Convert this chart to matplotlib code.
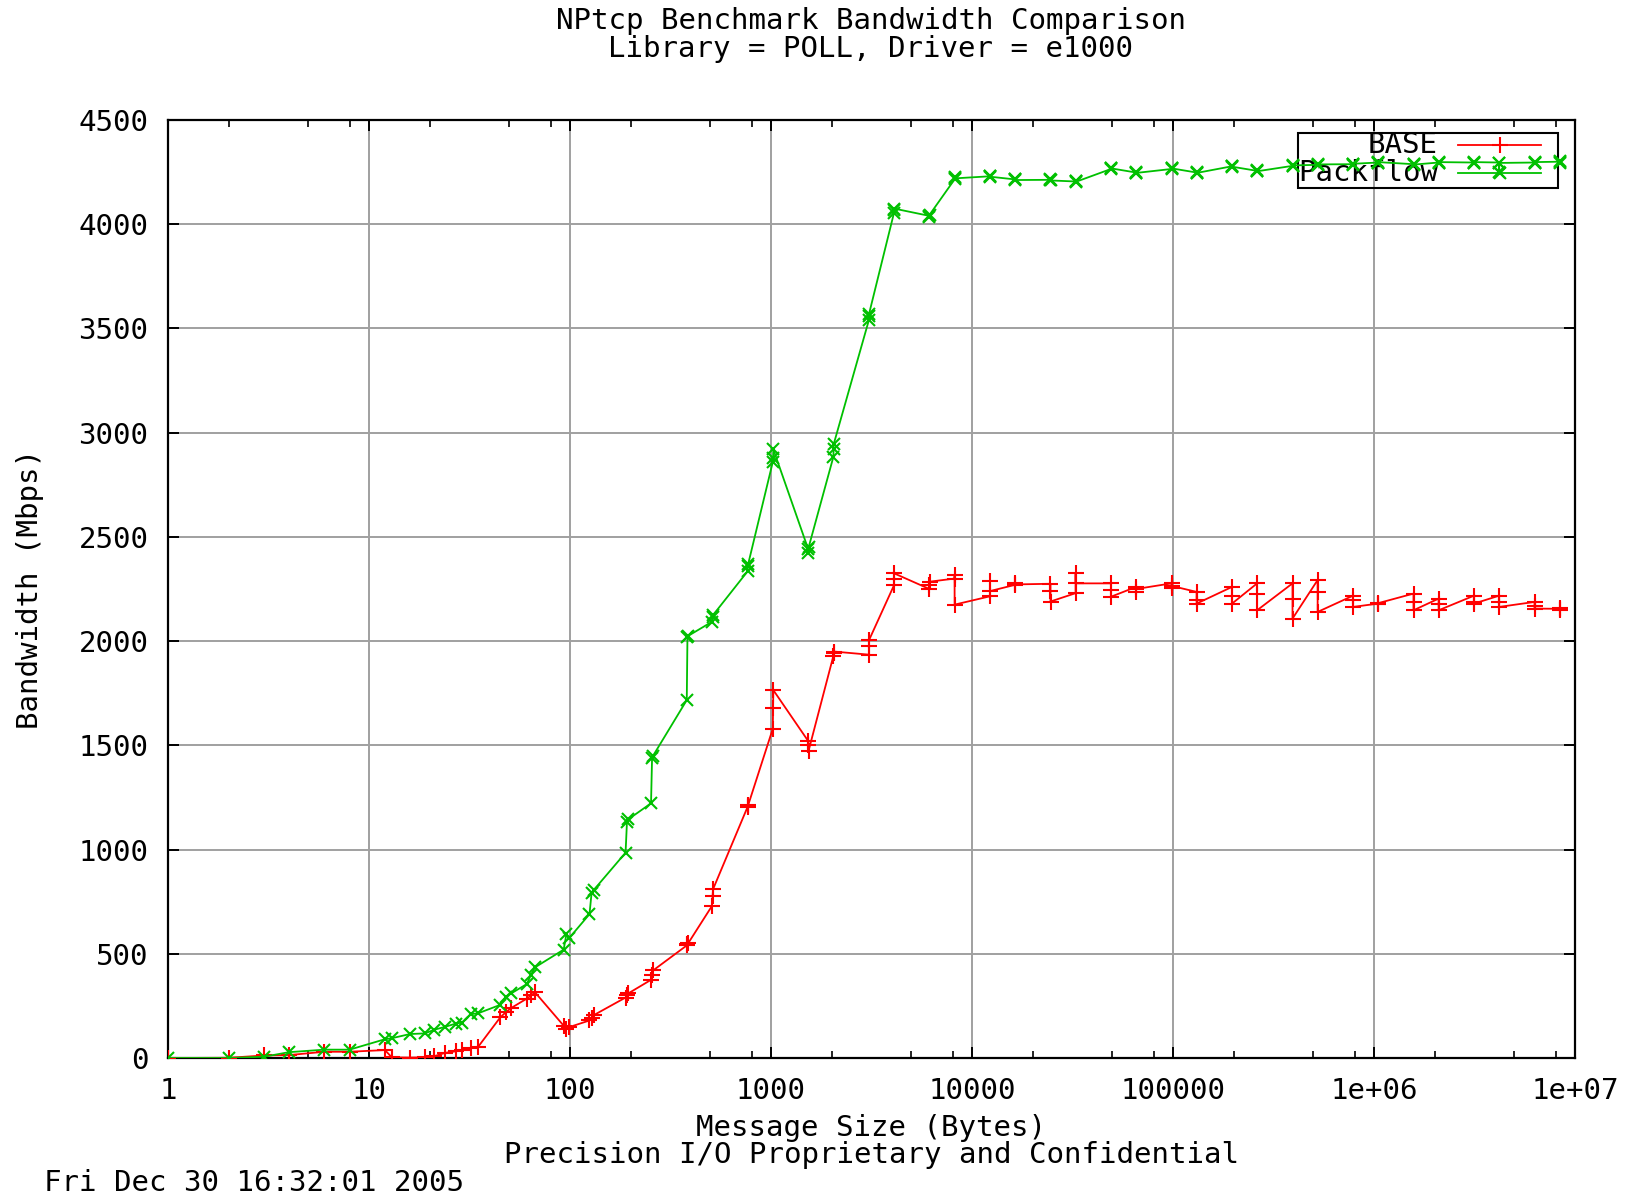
import numpy as np
import matplotlib
matplotlib.use("Agg")
import matplotlib.pyplot as plt
from matplotlib.ticker import LogLocator, FixedLocator, NullFormatter, FixedFormatter
from matplotlib.patches import Rectangle
from matplotlib.lines import Line2D

# message sizes tested by NPtcp (bytes)
sizes = [1, 2, 3, 4, 6, 8, 12, 13, 16, 19, 21, 24, 27, 29, 32, 35, 45, 48, 51,
         61, 64, 67, 93, 96, 99, 125, 128, 131, 189, 192, 195, 253, 256, 259,
         381, 384, 387, 509, 512, 515, 765, 768, 771, 1021, 1024, 1027,
         1533, 1536, 1539, 2045, 2048, 2051, 3069, 3072, 3075, 4093, 4096, 4099,
         6141, 6144, 6147, 8189, 8192, 8195, 12285, 12288, 12291,
         16381, 16384, 16387, 24573, 24576, 24579, 32765, 32768, 32771,
         49149, 49152, 49155, 65533, 65536, 65539, 98301, 98304, 98307,
         131069, 131072, 131075, 196605, 196608, 196611, 262141, 262144, 262147,
         393213, 393216, 393219, 524285, 524288, 524291, 786429, 786432, 786435,
         1048573, 1048576, 1048579, 1572861, 1572864, 1572867,
         2097149, 2097152, 2097155, 3145725, 3145728, 3145731,
         4194301, 4194304, 4194307, 6291453, 6291456, 6291459,
         8388605, 8388608, 8388611]

# bandwidth (Mbps), BASE
base_bw = [0, 1, 12, 14, 30, 30, 38, 3, 2, 3, 8, 25, 32, 38, 48, 55, 195, 220, 240,
           285, 300, 315, 155, 140, 148, 180, 190, 205, 290, 300, 310, 375, 400, 420,
           540, 545, 550, 730, 775, 810, 1205, 1210, 1215, 1580, 1680, 1765,
           1520, 1500, 1475, 1930, 1945, 1950, 1935, 1975, 2005, 2268, 2296, 2325,
           2250, 2270, 2285, 2300, 2315, 2175, 2215, 2290, 2240,
           2270, 2277, 2272, 2275, 2240, 2190, 2230, 2325, 2277,
           2277, 2245, 2213, 2260, 2236, 2250, 2277, 2253, 2265,
           2236, 2196, 2180, 2260, 2218, 2180, 2277, 2228, 2148,
           2277, 2204, 2108, 2293, 2236, 2140, 2218, 2196, 2164,
           2180, 2178, 2182, 2228, 2188, 2148,
           2204, 2180, 2148, 2218, 2190, 2180,
           2218, 2188, 2164, 2188, 2170, 2156,
           2155, 2150, 2158]

# bandwidth (Mbps), Packflow
packflow_bw = [0, 0, 6, 28, 40, 40, 90, 95, 115, 118, 135, 150, 165, 170, 210, 215, 255, 295, 310,
               355, 400, 435, 520, 595, 575, 690, 790, 805, 985, 1130, 1145, 1222, 1437, 1450,
               1717, 2018, 2025, 2093, 2115, 2125, 2335, 2362, 2372, 2860, 2880, 2920,
               2440, 2425, 2450, 2885, 2920, 2945, 3540, 3560, 3570, 4055, 4070, 4075,
               4040, 4035, 4045, 4215, 4225, 4220, 4230, 4232, 4228,
               4215, 4218, 4212, 4213, 4216, 4210, 4205, 4207, 4203,
               4265, 4270, 4268, 4248, 4250, 4246, 4265, 4270, 4268,
               4248, 4250, 4246, 4278, 4280, 4276, 4256, 4258, 4254,
               4280, 4278, 4282, 4285, 4283, 4287, 4288, 4286, 4290,
               4296, 4294, 4298, 4288, 4290, 4286,
               4296, 4294, 4298, 4296, 4294, 4298,
               4296, 4250, 4294, 4296, 4294, 4298,
               4300, 4295, 4305]

series_names = ["BASE", "Packflow"]
series_colors = ["#ff0000", "#00c000"]

xtick_vals = [1, 10, 100, 1000, 10000, 100000, 1e6, 1e7]
xtick_labels = ["1", "10", "100", "1000", "10000", "100000", "1e+06", "1e+07"]
ytick_vals = list(range(0, 4501, 500))

W, H = 1629, 1195
plt.rcParams['font.family'] = ['DejaVu Sans Mono']
FS = 21

fig = plt.figure(figsize=(W / 100, H / 100), dpi=100)
ax = fig.add_axes([168 / W, 1 - 1058 / H, (1575 - 168) / W, (1058 - 120) / H])

def fx(px):
    return px / W

def fy(py):
    return 1 - py / H

ax.plot(sizes, base_bw, color=series_colors[0], lw=1.3, marker='+',
        ms=11, mew=1.5, zorder=3)
ax.plot(sizes, packflow_bw, color=series_colors[1], lw=1.3, marker='x',
        ms=9, mew=1.5, zorder=4)

ax.set_xscale('log')
ax.set_xlim(1, 1e7)
ax.set_ylim(0, 4500)
ax.xaxis.set_major_locator(FixedLocator(xtick_vals))
ax.xaxis.set_major_formatter(FixedFormatter(xtick_labels))
ax.xaxis.set_minor_locator(LogLocator(base=10, subs=(2.0, 5.0, 8.0), numticks=20))
ax.xaxis.set_minor_formatter(NullFormatter())
ax.set_yticks(ytick_vals)

ax.tick_params(which='both', direction='in', top=True, right=True,
               labelsize=FS, color='black')
ax.tick_params(which='major', length=8, width=1.4)
ax.tick_params(which='minor', length=5, width=1.2)
ax.tick_params(axis='x', pad=14)
ax.tick_params(axis='y', pad=14)
for s in ax.spines.values():
    s.set_linewidth(1.6)
ax.grid(True, which='major', color='#a0a0a0', lw=1.4)
ax.set_axisbelow(True)

# titles and labels
fig.text(fx(871), fy(21), "NPtcp Benchmark Bandwidth Comparison", ha='center', va='center', fontsize=FS)
fig.text(fx(871), fy(49), "Library = POLL, Driver = e1000", ha='center', va='center', fontsize=FS)
fig.text(fx(871), fy(1128), "Message Size (Bytes)", ha='center', va='center', fontsize=FS)
fig.text(fx(871), fy(1155), "Precision I/O Proprietary and Confidential", ha='center', va='center', fontsize=FS)
fig.text(fx(44), fy(1183), "Fri Dec 30 16:32:01 2005", ha='left', va='center', fontsize=FS)
fig.text(fx(30), fy(589), "Bandwidth (Mbps)", ha='center', va='center', rotation=90, fontsize=FS)

# key box (drawn under the data, gnuplot style)
ax.add_patch(Rectangle((fx(1298), fy(188)), fx(1558) - fx(1298), fy(133) - fy(188),
                       transform=fig.transFigure, fill=False, ec='black', lw=1.5,
                       clip_on=False, zorder=1.6))
key_rows = [145, 173]
key_markers = ['+', 'x']
key_ms = [11, 9]
for name, col, row, mk, ms in zip(series_names, series_colors, key_rows, key_markers, key_ms):
    ax.text(fx(1438), fy(row), name, transform=fig.transFigure, ha='right', va='center',
            fontsize=FS, zorder=1.7, clip_on=False)
    ax.add_line(Line2D([fx(1458), fx(1541)], [fy(row), fy(row)], transform=fig.transFigure,
                       color=col, lw=1.3, clip_on=False, zorder=1.7))
    ax.add_line(Line2D([fx(1500)], [fy(row)], transform=fig.transFigure, color=col,
                       marker=mk, ms=ms, mew=1.5, ls='none', clip_on=False, zorder=1.7))

fig.savefig("out.png", dpi=100)
